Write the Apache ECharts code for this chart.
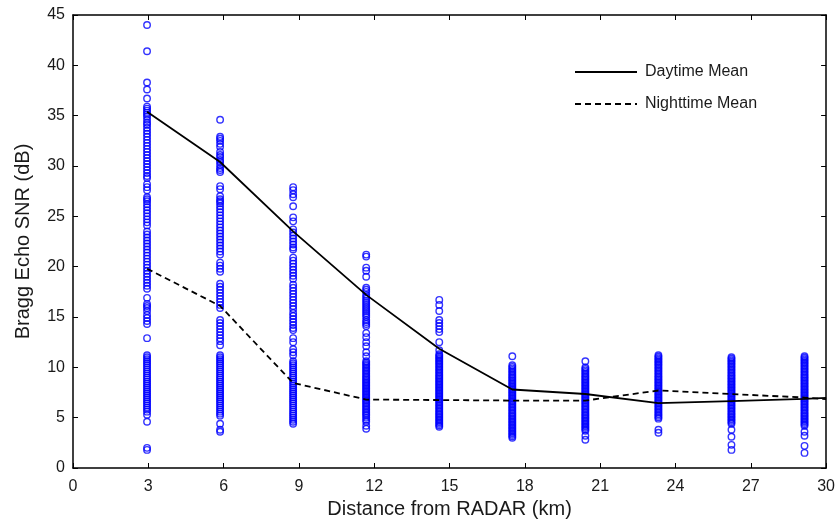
<!DOCTYPE html>
<html>
<head>
<meta charset="utf-8">
<script src="https://cdn.jsdelivr.net/npm/echarts@6/dist/echarts.min.js"></script>
<style>
html,body{margin:0;padding:0;background:#fff;}
#c{width:838px;height:526px;}
</style>
</head>
<body>
<div id="c"></div>
<script>
// Range-cell positions (km)
var rangeX = [2.95, 5.86, 8.77, 11.68, 14.59, 17.5, 20.41, 23.32, 26.23, 29.14];

// Individual SNR observations (dB) per range cell
var snrCell1 = [44.0, 41.4, 38.3, 37.6, 36.7, 35.9, 35.7, 35.5, 35.3, 35.1, 34.9, 34.6, 34.3, 34.1, 33.8, 33.5, 33.2, 32.9, 32.6, 32.3, 32.0, 31.7, 31.4, 31.1, 30.8, 30.5, 30.2, 29.9, 29.6, 29.3, 29.0, 28.8, 28.2, 27.9, 27.6, 26.9, 26.7, 26.5, 26.2, 25.9, 25.6, 25.3, 25.0, 24.7, 24.4, 24.1, 23.5, 23.2, 22.9, 22.6, 22.3, 22.0, 21.7, 21.4, 21.1, 20.8, 20.5, 20.2, 19.9, 19.6, 19.3, 19.0, 18.7, 18.4, 18.1, 17.8, 16.9, 16.3, 16.1, 15.9, 15.6, 15.2, 14.9, 14.6, 14.3, 12.9, 11.2, 11.0, 10.8, 10.6, 10.4, 10.2, 10.0, 9.8, 9.6, 9.4, 9.2, 9.0, 8.8, 8.6, 8.4, 8.2, 8.0, 7.8, 7.6, 7.4, 7.2, 7.0, 6.8, 6.6, 6.4, 6.2, 6.0, 5.8, 5.6, 5.3, 4.6, 2.0, 1.8];
var snrCell2 = [34.6, 32.9, 32.7, 32.5, 32.2, 31.9, 31.4, 31.1, 30.9, 30.6, 30.4, 30.1, 29.8, 29.6, 29.4, 28.0, 27.7, 27.0, 26.7, 26.5, 26.3, 26.0, 25.7, 25.4, 25.1, 24.8, 24.5, 24.2, 23.9, 23.6, 23.3, 23.0, 22.7, 22.4, 22.1, 21.8, 21.5, 21.2, 20.4, 20.1, 19.8, 19.5, 18.3, 18.0, 17.7, 17.4, 17.1, 16.8, 16.5, 16.2, 15.9, 14.7, 14.4, 14.1, 13.8, 13.5, 13.2, 12.9, 12.6, 12.2, 11.2, 11.0, 10.8, 10.6, 10.4, 10.2, 10.0, 9.8, 9.6, 9.4, 9.2, 9.0, 8.8, 8.6, 8.4, 8.2, 8.0, 7.8, 7.6, 7.4, 7.2, 7.0, 6.8, 6.6, 6.4, 6.2, 6.0, 5.8, 5.6, 5.4, 5.2, 4.4, 3.8, 3.6];
var snrCell3 = [27.9, 27.6, 27.2, 26.9, 26.0, 24.9, 24.5, 23.7, 23.4, 23.1, 22.8, 22.5, 22.2, 21.9, 21.7, 20.9, 20.6, 20.3, 20.0, 19.7, 19.4, 19.1, 18.8, 18.2, 17.9, 17.6, 17.3, 17.0, 16.7, 16.4, 16.1, 15.8, 15.4, 15.1, 14.8, 14.5, 14.2, 13.9, 13.7, 12.9, 12.5, 11.8, 11.5, 11.2, 10.6, 10.4, 10.2, 10.0, 9.8, 9.6, 9.4, 9.2, 9.0, 8.8, 8.6, 8.4, 8.2, 8.0, 7.8, 7.6, 7.4, 7.2, 7.0, 6.8, 6.6, 6.4, 6.2, 6.0, 5.8, 5.6, 5.4, 5.2, 5.0, 4.8, 4.6, 4.4];
var snrCell4 = [21.2, 21.0, 19.9, 19.6, 19.0, 17.9, 17.7, 17.5, 17.2, 17.0, 16.8, 16.6, 16.4, 16.2, 16.0, 15.8, 15.6, 15.4, 15.2, 15.0, 14.7, 14.5, 14.3, 14.1, 13.4, 13.0, 12.5, 12.1, 11.5, 11.1, 10.6, 10.45, 10.3, 10.15, 10.0, 9.85, 9.7, 9.55, 9.4, 9.25, 9.1, 8.95, 8.8, 8.65, 8.5, 8.35, 8.2, 8.05, 7.9, 7.75, 7.6, 7.45, 7.3, 7.15, 7.0, 6.85, 6.7, 6.55, 6.4, 6.25, 6.1, 5.95, 5.8, 5.65, 5.5, 5.35, 5.2, 5.0, 4.8, 4.6, 4.2, 3.9];
var snrCell5 = [16.7, 16.2, 15.6, 14.7, 14.4, 14.1, 13.8, 13.5, 12.5, 11.7, 11.3, 11.15, 11.0, 10.85, 10.7, 10.55, 10.4, 10.25, 10.1, 9.95, 9.8, 9.65, 9.5, 9.35, 9.2, 9.05, 8.9, 8.75, 8.6, 8.45, 8.3, 8.15, 8.0, 7.85, 7.7, 7.55, 7.4, 7.25, 7.1, 6.95, 6.8, 6.65, 6.5, 6.35, 6.2, 6.05, 5.9, 5.75, 5.6, 5.45, 5.3, 5.15, 5.0, 4.85, 4.7, 4.55, 4.4, 4.25, 4.1];
var snrCell6 = [11.1, 10.2, 10.05, 9.9, 9.75, 9.6, 9.45, 9.3, 9.15, 9.0, 8.85, 8.7, 8.55, 8.4, 8.25, 8.1, 7.95, 7.8, 7.65, 7.5, 7.35, 7.2, 7.05, 6.9, 6.75, 6.6, 6.45, 6.3, 6.15, 6.0, 5.85, 5.7, 5.55, 5.4, 5.25, 5.1, 4.95, 4.8, 4.65, 4.5, 4.35, 4.2, 4.05, 3.9, 3.75, 3.6, 3.45, 3.3, 3.15, 3.0];
var snrCell7 = [10.6, 10.0, 9.85, 9.7, 9.55, 9.4, 9.25, 9.1, 8.95, 8.8, 8.65, 8.5, 8.35, 8.2, 8.05, 7.9, 7.75, 7.6, 7.45, 7.3, 7.15, 7.0, 6.85, 6.7, 6.55, 6.4, 6.25, 6.1, 5.95, 5.8, 5.65, 5.5, 5.35, 5.2, 5.05, 4.9, 4.75, 4.6, 4.45, 4.3, 4.15, 4.0, 3.85, 3.7, 3.2, 2.8];
var snrCell8 = [11.2, 11.05, 10.9, 10.75, 10.6, 10.45, 10.3, 10.15, 10.0, 9.85, 9.7, 9.55, 9.4, 9.25, 9.1, 8.95, 8.8, 8.65, 8.5, 8.35, 8.2, 8.05, 7.9, 7.75, 7.6, 7.45, 7.3, 7.15, 7.0, 6.85, 6.7, 6.55, 6.4, 6.25, 6.1, 5.95, 5.8, 5.65, 5.5, 5.35, 5.2, 5.05, 4.9, 3.8, 3.5];
var snrCell9 = [11.0, 10.85, 10.7, 10.55, 10.4, 10.25, 10.1, 9.95, 9.8, 9.65, 9.5, 9.35, 9.2, 9.05, 8.9, 8.75, 8.6, 8.45, 8.3, 8.15, 8.0, 7.85, 7.7, 7.55, 7.4, 7.25, 7.1, 6.95, 6.8, 6.65, 6.5, 6.35, 6.2, 6.05, 5.9, 5.75, 5.6, 5.45, 5.3, 5.15, 5.0, 4.85, 4.7, 4.55, 4.4, 3.8, 3.1, 2.3, 1.8];
var snrCell10 = [11.1, 10.95, 10.8, 10.65, 10.5, 10.35, 10.2, 10.05, 9.9, 9.75, 9.6, 9.45, 9.3, 9.15, 9.0, 8.85, 8.7, 8.55, 8.4, 8.25, 8.1, 7.95, 7.8, 7.65, 7.5, 7.35, 7.2, 7.05, 6.9, 6.75, 6.6, 6.45, 6.3, 6.15, 6.0, 5.85, 5.7, 5.55, 5.4, 5.25, 5.1, 4.95, 4.8, 4.65, 4.5, 4.35, 4.2, 3.6, 3.2, 2.2, 1.5];

// Mean curves
var meanX = [2.95, 5.86, 8.77, 11.68, 14.59, 17.5, 20.41, 23.32, 26.23, 29.14, 30];
var dayMean = [35.4, 30.4, 23.5, 17.2, 11.85, 7.8, 7.35, 6.45, 6.65, 6.87, 6.97];
var nightMean = [19.8, 16.1, 8.45, 6.8, 6.75, 6.7, 6.7, 7.7, 7.35, 7.0, 6.84];

// Ticks
var xTicks = {min: 0, max: 30, interval: 3};
var yTicks = {min: 0, max: 45, interval: 5};

var cells = [snrCell1, snrCell2, snrCell3, snrCell4, snrCell5, snrCell6, snrCell7, snrCell8, snrCell9, snrCell10];
var scatterData = [];
cells.forEach(function (vals, i) {
  vals.forEach(function (v) { scatterData.push([rangeX[i], v]); });
});
function pairs(xs, ys) { return xs.map(function (x, i) { return [x, ys[i]]; }); }

var FONT = '"Liberation Sans", Arial, Helvetica, sans-serif';
var axisLine = {show: true, onZero: false, lineStyle: {color: '#000', width: 1.5}};
var axisTick = {show: true, inside: true, length: 5, lineStyle: {color: '#000', width: 1}};

var chart = echarts.init(document.getElementById('c'), null, {renderer: 'canvas'});
chart.setOption({
  animation: false,
  backgroundColor: '#fff',
  textStyle: {fontFamily: FONT},
  grid: {left: 73, right: 9, top: 15, bottom: 58, containLabel: false},
  legend: {
    orient: 'vertical',
    left: 569,
    top: 59,
    itemWidth: 62,
    itemHeight: 14,
    itemGap: 16,
    data: ['Daytime Mean', 'Nighttime Mean'],
    itemStyle: {opacity: 0},
    textStyle: {fontFamily: FONT, fontSize: 16, color: '#1a1a1a', padding: [0, 0, 0, 3]},
    selectedMode: false
  },
  xAxis: [{
    type: 'value', min: xTicks.min, max: xTicks.max, interval: xTicks.interval,
    position: 'bottom',
    name: 'Distance from RADAR (km)', nameLocation: 'middle', nameGap: 31,
    nameTextStyle: {fontFamily: FONT, fontSize: 20, color: '#1a1a1a'},
    axisLine: axisLine, axisTick: axisTick,
    axisLabel: {fontFamily: FONT, fontSize: 16, color: '#1a1a1a', margin: 11},
    splitLine: {show: false}
  }, {
    type: 'value', min: xTicks.min, max: xTicks.max, interval: xTicks.interval,
    position: 'top',
    axisLine: axisLine, axisTick: axisTick,
    axisLabel: {show: false}, splitLine: {show: false}
  }],
  yAxis: [{
    type: 'value', min: yTicks.min, max: yTicks.max, interval: yTicks.interval,
    position: 'left',
    name: 'Bragg Echo SNR (dB)', nameLocation: 'middle', nameGap: 40,
    nameTextStyle: {fontFamily: FONT, fontSize: 20, color: '#1a1a1a'},
    axisLine: axisLine, axisTick: axisTick,
    axisLabel: {fontFamily: FONT, fontSize: 16, color: '#1a1a1a', margin: 8},
    splitLine: {show: false}
  }, {
    type: 'value', min: yTicks.min, max: yTicks.max, interval: yTicks.interval,
    position: 'right',
    axisLine: axisLine, axisTick: axisTick,
    axisLabel: {show: false}, splitLine: {show: false}
  }],
  series: [{
    name: 'SNR samples',
    type: 'scatter',
    data: scatterData,
    symbol: 'circle',
    symbolSize: 6.5,
    itemStyle: {color: 'rgba(0,0,0,0)', borderColor: '#0000ff', borderWidth: 1.4},
    z: 2
  }, {
    name: 'Daytime Mean',
    type: 'line',
    data: pairs(meanX, dayMean),
    showSymbol: false,
    symbol: 'none',
    lineStyle: {color: '#000', width: 1.8, type: 'solid'},
    itemStyle: {color: '#000'},
    z: 3
  }, {
    name: 'Nighttime Mean',
    type: 'line',
    data: pairs(meanX, nightMean),
    showSymbol: false,
    symbol: 'none',
    lineStyle: {color: '#000', width: 1.8, type: [6, 4]},
    itemStyle: {color: '#000'},
    z: 3
  }]
});
</script>
</body>
</html>
